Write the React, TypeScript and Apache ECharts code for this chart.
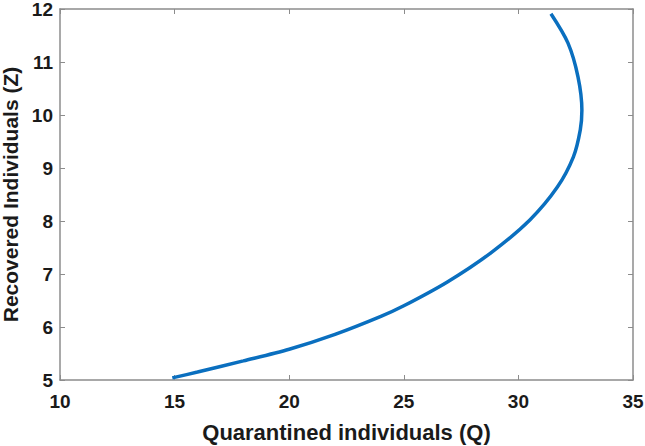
import React, { useEffect, useRef } from "react";
import * as echarts from "echarts";

const quarantined = [14.9, 16.0, 18.0, 20.0, 22.0, 24.0, 25.0, 26.9, 28.8, 30.5, 31.7, 32.4, 32.7, 32.77, 32.6, 32.16, 31.42];
const recovered = [5.04, 5.15, 5.36, 5.58, 5.86, 6.2, 6.4, 6.85, 7.4, 8.02, 8.64, 9.21, 9.72, 10.09, 10.72, 11.36, 11.91];
const xTicks = [10, 15, 20, 25, 30, 35];
const yTicks = [5, 6, 7, 8, 9, 10, 11, 12];

export default function App() {
  const ref = useRef<HTMLDivElement>(null);
  useEffect(() => {
    if (!ref.current) return;
    const chart = echarts.init(ref.current, null, { renderer: "svg" });
    const font = "'Liberation Sans', Arial, sans-serif";
    const labelStyle = { color: "#1a1a1a", fontWeight: "bold" as const, fontSize: 19, fontFamily: font };
    const axisLine = { show: true, lineStyle: { color: "#8c8c8c", width: 1.5 } };
    const tick = { show: true, inside: true, length: 5, lineStyle: { color: "#8c8c8c" } };
    chart.setOption({
      animation: false,
      backgroundColor: "#fff",
      grid: { left: 60, right: 12, top: 9, bottom: 66, containLabel: false, outerBoundsMode: "none" },
      xAxis: [
        {
          type: "value",
          min: xTicks[0],
          max: xTicks[xTicks.length - 1],
          interval: 5,
          axisLine,
          axisTick: tick,
          splitLine: { show: false },
          axisLabel: { ...labelStyle, margin: 12 },
          name: "Quarantined individuals (Q)",
          nameLocation: "middle",
          nameGap: 41,
          nameTextStyle: { color: "#1a1a1a", fontWeight: "bold", fontSize: 22, fontFamily: font },
        },
        {
          type: "value",
          position: "top",
          min: xTicks[0],
          max: xTicks[xTicks.length - 1],
          interval: 5,
          axisLine,
          axisTick: tick,
          splitLine: { show: false },
          axisLabel: { show: false },
        },
      ],
      yAxis: [
        {
          type: "value",
          min: yTicks[0],
          max: yTicks[yTicks.length - 1],
          interval: 1,
          axisLine,
          axisTick: tick,
          splitLine: { show: false },
          axisLabel: { ...labelStyle, margin: 7 },
          name: "Recovered Individuals (Z)",
          nameLocation: "middle",
          nameGap: 35,
          nameTextStyle: { color: "#1a1a1a", fontWeight: "bold", fontSize: 21, fontFamily: font },
        },
        {
          type: "value",
          position: "right",
          min: yTicks[0],
          max: yTicks[yTicks.length - 1],
          interval: 1,
          axisLine,
          axisTick: tick,
          splitLine: { show: false },
          axisLabel: { show: false },
        },
      ],
      series: [
        {
          type: "line",
          data: quarantined.map((q, i) => [q, recovered[i]]),
          smooth: 0.3,
          showSymbol: false,
          lineStyle: { color: "#0a6fbf", width: 3.5 },
        },
      ],
    });
    return () => chart.dispose();
  }, []);
  return <div ref={ref} style={{ width: 645, height: 446, position: "absolute", left: 0, top: 0 }} />;
}
